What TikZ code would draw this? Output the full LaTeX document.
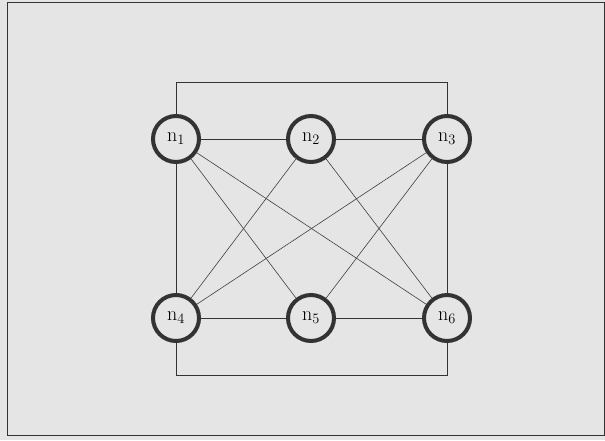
\documentclass[tikz,border=0pt]{standalone}
\usepackage{tikz}
\begin{document}
\begin{tikzpicture}[x=1pt,y=-1pt,
  vtx/.style={circle,draw=black!80,line width=4pt,fill=gray!20,minimum size=46pt,inner sep=0pt,font=\fontsize{20}{20}\selectfont},
  edge/.style={draw=black!80,line width=0.9pt},
  thin edge/.style={draw=black!75,line width=0.6pt}]
\fill[gray!20] (0,0) rectangle (605,440);
\useasboundingbox (0,0) rectangle (605,440);
\draw[black!80,line width=1pt] (7,2) rectangle (604,435);
\node[vtx] (n1) at (176,139) {n$_1$};
\node[vtx] (n2) at (311,139) {n$_2$};
\node[vtx] (n3) at (447,139) {n$_3$};
\node[vtx] (n4) at (176,318) {n$_4$};
\node[vtx] (n5) at (311,318) {n$_5$};
\node[vtx] (n6) at (447,318) {n$_6$};
\coordinate (tl) at (176,82);
\coordinate (tr) at (447,82);
\coordinate (bl) at (176,375);
\coordinate (br) at (447,375);
\draw[edge] (n1) -- (tl) -- (tr) -- (n3);
\draw[edge] (n4) -- (bl) -- (br) -- (n6);
\draw[edge] (n1) -- (n2);
\draw[edge] (n2) -- (n3);
\draw[edge] (n4) -- (n5);
\draw[edge] (n5) -- (n6);
\draw[edge] (n1) -- (n4);
\draw[edge] (n3) -- (n6);
\draw[thin edge] (n1) -- (n5);
\draw[thin edge] (n1) -- (n6);
\draw[thin edge] (n2) -- (n4);
\draw[thin edge] (n2) -- (n6);
\draw[thin edge] (n3) -- (n4);
\draw[thin edge] (n3) -- (n5);
\end{tikzpicture}
\end{document}
